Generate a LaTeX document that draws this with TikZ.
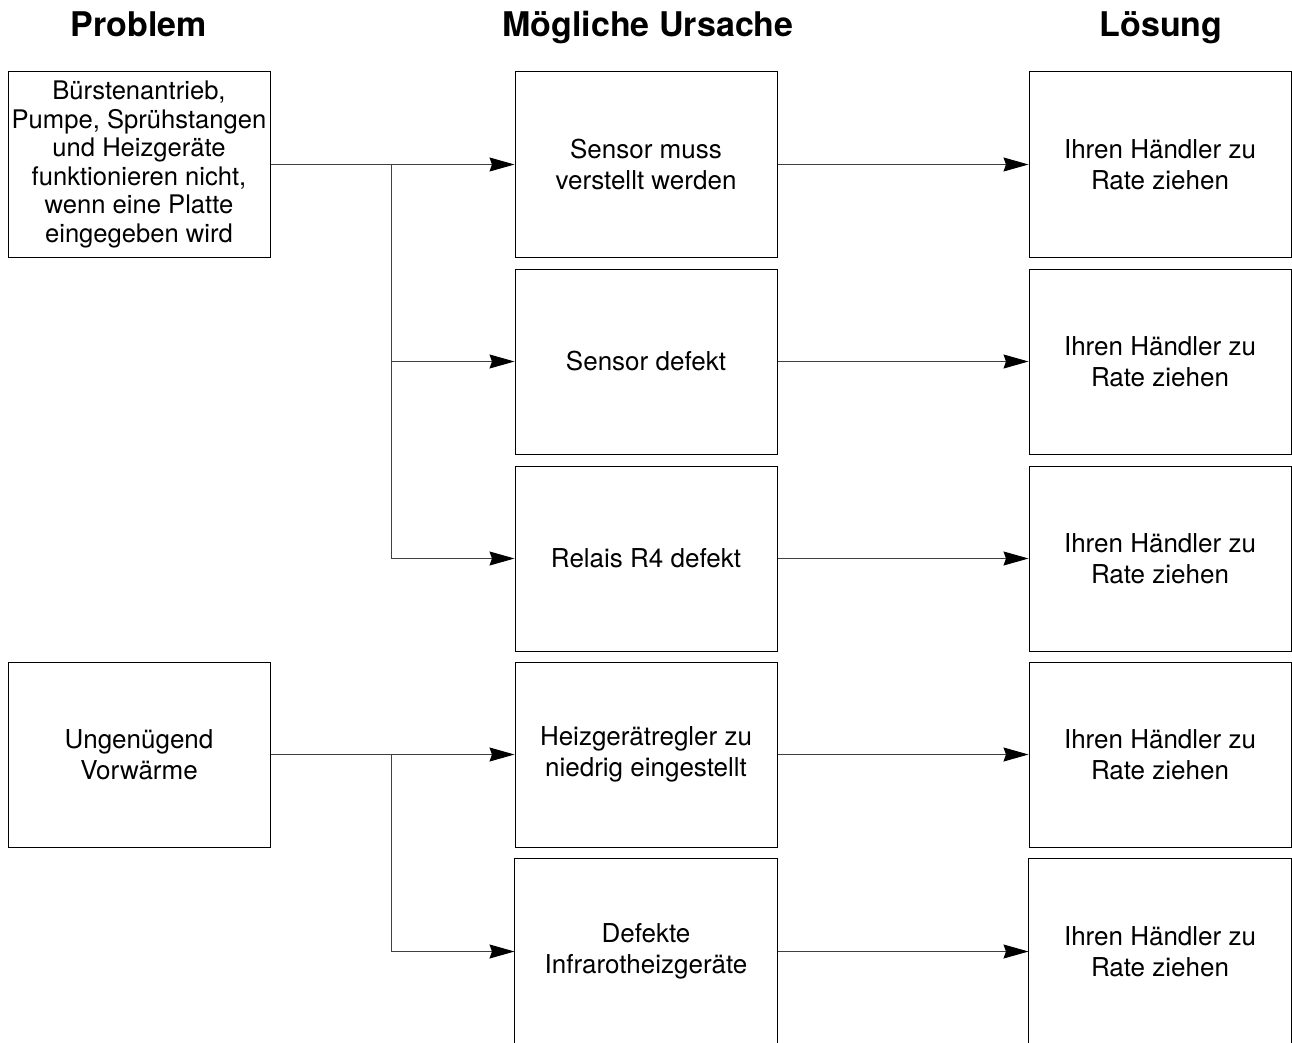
\documentclass[tikz,border=0pt]{standalone}
\usepackage{fontspec}
\setmainfont{TeX Gyre Heros}
\usetikzlibrary{arrows.meta}
\begin{document}
\begin{tikzpicture}[x=1pt,y=-1pt,
  box/.style={draw=black, line width=1pt, minimum width=262pt, minimum height=185pt,
    inner sep=0pt, align=center, font=\fontsize{26}{31.5}\selectfont},
  openbox/.style={line width=1pt, minimum width=262pt, minimum height=185pt,
    inner sep=0pt, align=center, font=\fontsize{26}{31.5}\selectfont},
  dense/.style={font=\fontsize{25.6}{28.6}\selectfont},
  head/.style={font=\fontsize{34}{40}\selectfont\bfseries, inner sep=0pt, anchor=base},
  link/.style={line width=1pt, draw=black!75},
  arr/.style={link, -{Stealth[length=25pt, width=14pt, inset=2.5pt, color=black]}},
]
\useasboundingbox (0,0) rectangle (1292,1043);

% column headings
\node[head] (h1) at (139,37) {Problem};
\node[head] (h2) at (648,37) {Mögliche Ursache};
\node[head] (h3) at (1161,37) {Lösung};

% problems
\node[box, dense] (p1) at (139,164.5) {Bürstenantrieb,\\Pumpe, Sprühstangen\\und Heizgeräte\\funktionieren nicht,\\wenn eine Platte\\eingegeben wird};
\node[box] (p2) at (139,754.5) {Ungenügend\\Vorwärme};

% possible causes
\node[box] (c1) at (646,164.5) {Sensor muss\\verstellt werden};
\node[box] (c2) at (646,361.5) {Sensor defekt};
\node[box] (c3) at (646,558.5) {Relais R4 defekt};
\node[box] (c4) at (646,754.5) {Heizgerätregler zu\\niedrig eingestellt};
\node[openbox] (c5) at (646,951.5) {Defekte\\Infrarotheizgeräte};
\draw[line width=1pt] ([yshift=2pt]c5.south west) -- (c5.north west) -- (c5.north east) -- ([yshift=2pt]c5.south east);

% solutions
\node[box] (s1) at (1160,164.5) {Ihren Händler zu\\Rate ziehen};
\node[box] (s2) at (1160,361.5) {Ihren Händler zu\\Rate ziehen};
\node[box] (s3) at (1160,558.5) {Ihren Händler zu\\Rate ziehen};
\node[box] (s4) at (1160,754.5) {Ihren Händler zu\\Rate ziehen};
\node[openbox] (s5) at (1160,951.5) {Ihren Händler zu\\Rate ziehen};
\draw[line width=1pt] ([yshift=2pt]s5.south west) -- (s5.north west) -- (s5.north east) -- ([yshift=2pt]s5.south east);

% branch points
\coordinate (j1) at (391,164.5);
\coordinate (j2) at (391,754.5);

% problem -> causes
\draw[arr] (p1.east) -- (c1.west);
\draw[link] (j1) -- (j1 |- c3.west);
\draw[arr] (j1 |- c2.west) -- (c2.west);
\draw[arr] (j1 |- c3.west) -- (c3.west);

\draw[arr] (p2.east) -- (c4.west);
\draw[link] (j2) -- (j2 |- c5.west);
\draw[arr] (j2 |- c5.west) -- (c5.west);

% causes -> solutions
\draw[arr] (c1.east) -- (s1.west);
\draw[arr] (c2.east) -- (s2.west);
\draw[arr] (c3.east) -- (s3.west);
\draw[arr] (c4.east) -- (s4.west);
\draw[arr] (c5.east) -- (s5.west);
\end{tikzpicture}
\end{document}
